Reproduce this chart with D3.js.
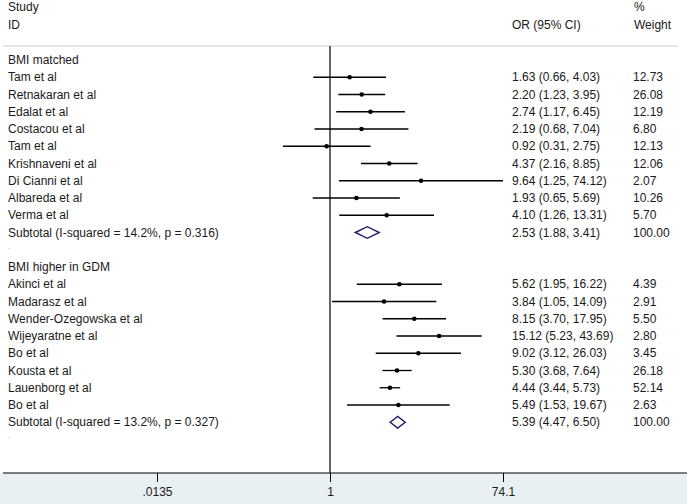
<!DOCTYPE html>
<html>
<head>
<meta charset="utf-8">
<script src="https://cdn.jsdelivr.net/npm/d3@7"></script>
<style>
  html, body { margin: 0; padding: 0; background: #fff; }
  svg { display: block; }
  text { font-family: "Liberation Sans", Arial, sans-serif; font-size: 12px; fill: #1a1a1a; }
</style>
</head>
<body>
<svg id="chart" width="687" height="504"></svg>
<script>
// ---- Data ----
const group1Name = "BMI matched";
const group1Studies = ["Tam et al", "Retnakaran et al", "Edalat et al", "Costacou et al", "Tam et al",
  "Krishnaveni et al", "Di Cianni et al", "Albareda et al", "Verma et al"];
const group1OR = [1.63, 2.20, 2.74, 2.19, 0.92, 4.37, 9.64, 1.93, 4.10];
const group1Lo = [0.66, 1.23, 1.17, 0.68, 0.31, 2.16, 1.25, 0.65, 1.26];
const group1Hi = [4.03, 3.95, 6.45, 7.04, 2.75, 8.85, 74.12, 5.69, 13.31];
const group1Weight = ["12.73", "26.08", "12.19", "6.80", "12.13", "12.06", "2.07", "10.26", "5.70"];
const group1Subtotal = { label: "Subtotal  (I-squared = 14.2%, p = 0.316)", or: 2.53, lo: 1.88, hi: 3.41, weight: "100.00" };

const group2Name = "BMI higher in GDM";
const group2Studies = ["Akinci et al", "Madarasz et al", "Wender-Ozegowska et al", "Wijeyaratne et al",
  "Bo et al", "Kousta et al", "Lauenborg et al", "Bo et al"];
const group2OR = [5.62, 3.84, 8.15, 15.12, 9.02, 5.30, 4.44, 5.49];
const group2Lo = [1.95, 1.05, 3.70, 5.23, 3.12, 3.68, 3.44, 1.53];
const group2Hi = [16.22, 14.09, 17.95, 43.69, 26.03, 7.64, 5.73, 19.67];
const group2Weight = ["4.39", "2.91", "5.50", "2.80", "3.45", "26.18", "52.14", "2.63"];
const group2Subtotal = { label: "Subtotal  (I-squared = 13.2%, p = 0.327)", or: 5.39, lo: 4.47, hi: 6.50, weight: "100.00" };

const tickValues = [0.0135, 1, 74.1];
const tickLabels = [".0135", "1", "74.1"];

// ---- Build rows ----
const fmt = d3.format(".2f");
const rows = [];
function addGroup(name, studies, or, lo, hi, wt, sub) {
  rows.push({ type: "header", label: name });
  studies.forEach((s, i) => rows.push({ type: "study", label: s, or: or[i], lo: lo[i], hi: hi[i], weight: wt[i] }));
  rows.push({ type: "subtotal", label: sub.label, or: sub.or, lo: sub.lo, hi: sub.hi, weight: sub.weight });
  rows.push({ type: "dot", label: "." });
}
addGroup(group1Name, group1Studies, group1OR, group1Lo, group1Hi, group1Weight, group1Subtotal);
addGroup(group2Name, group2Studies, group2OR, group2Lo, group2Hi, group2Weight, group2Subtotal);

// ---- Scales ----
const svg = d3.select("#chart");
const W = 687, H = 504;
const x = d3.scaleLog().domain([0.0135, 74.1]).range([157, 503]);
const y = d3.scaleLinear().domain([0, rows.length - 1]).range([60, 60 + 17.25 * (rows.length - 1)]);
const axisY = 473;

// bottom panel
svg.append("rect").attr("x", 0).attr("y", axisY).attr("width", W).attr("height", H - axisY).attr("fill", "#e9f0f3");

// header
const headG = svg.append("g");
headG.append("text").attr("x", 8).attr("y", 7).attr("dy", "0.35em").text("Study");
headG.append("text").attr("x", 8).attr("y", 25).attr("dy", "0.35em").text("ID");
headG.append("text").attr("x", 512).attr("y", 25).attr("dy", "0.35em").text("OR (95% CI)");
headG.append("text").attr("x", 634).attr("y", 7).attr("dy", "0.35em").text("%");
headG.append("text").attr("x", 634).attr("y", 25).attr("dy", "0.35em").text("Weight");
svg.append("line").attr("x1", 3).attr("x2", 678).attr("y1", 46).attr("y2", 46)
  .attr("stroke", "#cfcfcf").attr("stroke-width", 1);

// null line
svg.append("line").attr("x1", x(1)).attr("x2", x(1)).attr("y1", 46).attr("y2", axisY)
  .attr("stroke", "#000").attr("stroke-width", 1.2);

// rows
const rowG = svg.selectAll("g.row").data(rows).join("g").attr("class", "row")
  .attr("transform", (d, i) => `translate(0,${y(i)})`);

rowG.append("text").attr("x", 8).attr("dy", "0.35em")
  .style("fill", d => d.type === "dot" ? "#999" : "#1a1a1a")
  .style("font-size", d => d.type === "dot" ? "8px" : null)
  .attr("y", d => d.type === "dot" ? -4 : 0)
  .text(d => d.label);

const est = rowG.filter(d => d.type === "study");
est.append("line").attr("x1", d => x(d.lo)).attr("x2", d => x(d.hi))
  .attr("stroke", "#000").attr("stroke-width", 1.3);
est.append("circle").attr("cx", d => x(d.or)).attr("r", 2.3).attr("fill", "#000");

const sub = rowG.filter(d => d.type === "subtotal");
sub.append("path").attr("d", d => {
  const h = 5.8;
  return `M${x(d.lo)},0L${x(d.or)},${-h}L${x(d.hi)},0L${x(d.or)},${h}Z`;
}).attr("fill", "#fff").attr("stroke", "#1c1c6e").attr("stroke-width", 1.4);

const withCI = rowG.filter(d => d.type === "study" || d.type === "subtotal");
withCI.append("text").attr("x", 512).attr("dy", "0.35em")
  .text(d => `${fmt(d.or)} (${fmt(d.lo)}, ${fmt(d.hi)})`);
withCI.append("text").attr("x", 633).attr("dy", "0.35em").text(d => d.weight);

// axis
const axis = d3.axisBottom(x).tickValues(tickValues).tickFormat((d, i) => tickLabels[i]).tickSize(9).tickPadding(5);
const axG = svg.append("g").attr("transform", `translate(0,${axisY})`).call(axis);
axG.select(".domain").remove();
axG.append("line").attr("x1", 3).attr("x2", W).attr("y1", 0).attr("y2", 0).attr("stroke", "#000").attr("stroke-width", 1.2);
axG.selectAll(".tick line").attr("stroke", "#000");
axG.selectAll(".tick text").style("font-family", "'Liberation Sans', Arial, sans-serif").style("font-size", "12px").attr("fill", "#1a1a1a");
</script>
</body>
</html>
